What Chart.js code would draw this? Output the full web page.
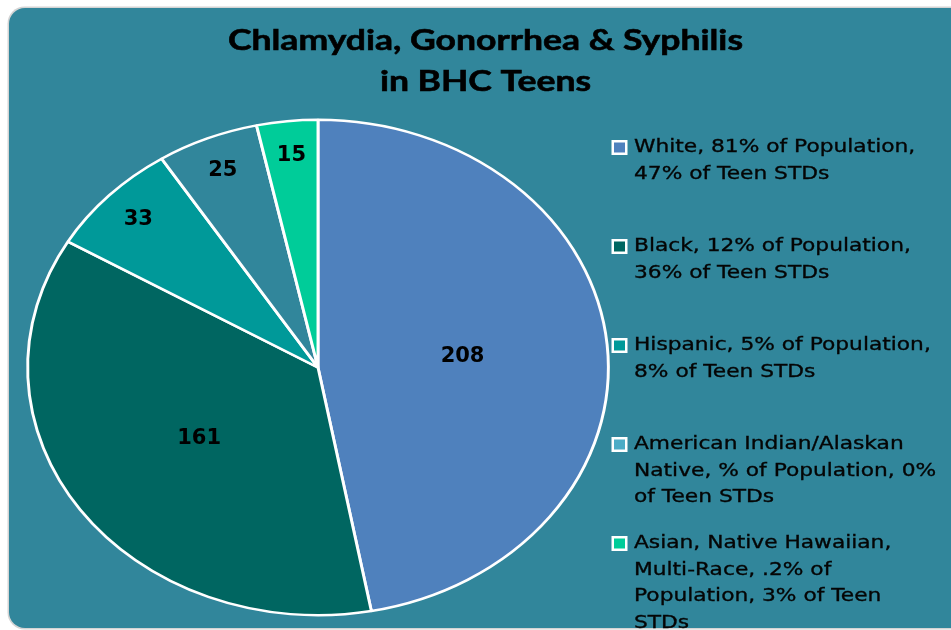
<!DOCTYPE html>
<html><head><meta charset="utf-8">
<script src="https://cdn.jsdelivr.net/npm/chart.js@4.4.1/dist/chart.umd.min.js"></script>
<style>html,body{margin:0;padding:0;background:#fff;}canvas{display:block}</style>
</head><body>
<canvas id="c" width="951" height="630"></canvas>
<script>
const titleLines = ["Chlamydia, Gonorrhea & Syphilis", "in BHC Teens"];
const categories = ["White", "Black", "Hispanic", "American Indian/Alaskan Native", "Asian, Native Hawaiian, Multi-Race"];
const cases = [208, 161, 33, 25, 15];
const legendLines = [
  ["White, 81% of Population,", "47% of Teen STDs"],
  ["Black, 12% of Population,", "36% of Teen STDs"],
  ["Hispanic, 5% of Population,", "8% of Teen STDs"],
  ["American Indian/Alaskan", "Native, % of Population, 0%", "of Teen STDs"],
  ["Asian, Native Hawaiian,", "Multi-Race, .2% of", "Population, 3% of Teen", "STDs"]
];
const sliceColors = ["#4F81BD", "#006661", "#009999", "#31869B", "#00CC99"];
const swatchColors = ["#4F81BD", "#006661", "#009999", "#4BACC6", "#00CC99"];

const PANEL = "#31869B";
const SX = 1.172; // horizontal stretch of the pie (ellipse)

function stretchedText(ctx, text, x, y, sx, stroke) {
  ctx.save();
  ctx.translate(x, y);
  ctx.scale(sx, 1);
  ctx.fillText(text, 0, 0);
  if (stroke) ctx.strokeText(text, 0, 0);
  ctx.restore();
}

const panelPlugin = {
  id: 'panel',
  beforeDraw(chart) {
    const ctx = chart.ctx;
    ctx.save();
    ctx.fillStyle = '#fff';
    ctx.fillRect(0, 0, chart.width, chart.height);
    const x = 9, y = 8, w = 1000, h = 620, r = 16;
    ctx.beginPath();
    ctx.roundRect(x - 1.5, y - 1.5, w, h + 3, r + 1);
    ctx.fillStyle = '#d4d4d4';
    ctx.fill();
    ctx.beginPath();
    ctx.roundRect(x, y, w, h, r);
    ctx.fillStyle = PANEL;
    ctx.fill();
    ctx.restore();
  }
};

const ellipsePlugin = {
  id: 'ellipse',
  beforeDatasetsDraw(chart) {
    const a = chart.getDatasetMeta(0).data[0];
    const ctx = chart.ctx;
    ctx.save();
    ctx.translate(a.x, a.y);
    ctx.scale(SX, 1);
    ctx.translate(-a.x, -a.y);
  },
  afterDatasetsDraw(chart) {
    const ctx = chart.ctx;
    ctx.restore();
    const meta = chart.getDatasetMeta(0);
    const data = chart.data.datasets[0].data;
    const total = data.reduce((s, v) => s + v, 0);
    ctx.save();
    ctx.font = 'bold 21px "DejaVu Sans"';
    ctx.fillStyle = '#000';
    ctx.textAlign = 'center';
    ctx.textBaseline = 'middle';
    meta.data.forEach((arc, i) => {
      const mid = (arc.startAngle + arc.endAngle) / 2;
      const f = data[i] / total > 0.2 ? 0.5 : 0.86;
      const R = arc.outerRadius;
      const x = arc.x + SX * f * R * Math.cos(mid);
      const y = arc.y + f * R * Math.sin(mid);
      ctx.fillText(String(data[i]), x, y);
    });
    ctx.restore();
  }
};

const textPlugin = {
  id: 'texts',
  afterDraw(chart) {
    const ctx = chart.ctx;
    ctx.save();
    // title
    ctx.fillStyle = '#000';
    ctx.strokeStyle = '#000';
    ctx.lineWidth = 0.6;
    ctx.font = 'bold 29px Lato';
    ctx.textAlign = 'center';
    ctx.textBaseline = 'alphabetic';
    const w0 = ctx.measureText(titleLines[0]).width;
    const tsx = 515 / w0;
    stretchedText(ctx, titleLines[0], 485.5, 50, tsx, true);
    stretchedText(ctx, titleLines[1], 485.5, 91, tsx, true);
    // legend
    ctx.font = '18.5px "DejaVu Sans"';
    ctx.textAlign = 'left';
    ctx.textBaseline = 'middle';
    ctx.lineWidth = 0.35;
    legendLines.forEach((lines, i) => {
      const y0 = 147 + i * 99;
      ctx.fillStyle = '#fff';
      ctx.fillRect(611.5, y0 - 7, 16, 15);
      ctx.fillStyle = swatchColors[i];
      ctx.fillRect(614, y0 - 4.5, 11, 10);
      ctx.fillStyle = '#050505';
      ctx.strokeStyle = '#050505';
      lines.forEach((t, j) => {
        stretchedText(ctx, t, 634, y0 + j * 26.7, 1.175, true);
      });
    });
    ctx.restore();
  }
};

new Chart(document.getElementById('c'), {
  type: 'pie',
  data: {
    labels: categories,
    datasets: [{
      data: cases,
      backgroundColor: sliceColors,
      borderColor: '#ffffff',
      borderWidth: 2.5
    }]
  },
  options: {
    responsive: false,
    animation: false,
    events: [],
    layout: { padding: { left: 69, right: 384, top: 118.5, bottom: 13.5 } },
    plugins: {
      legend: { display: false },
      title: { display: false },
      tooltip: { enabled: false }
    }
  },
  plugins: [panelPlugin, ellipsePlugin, textPlugin]
});
</script>
</body></html>
